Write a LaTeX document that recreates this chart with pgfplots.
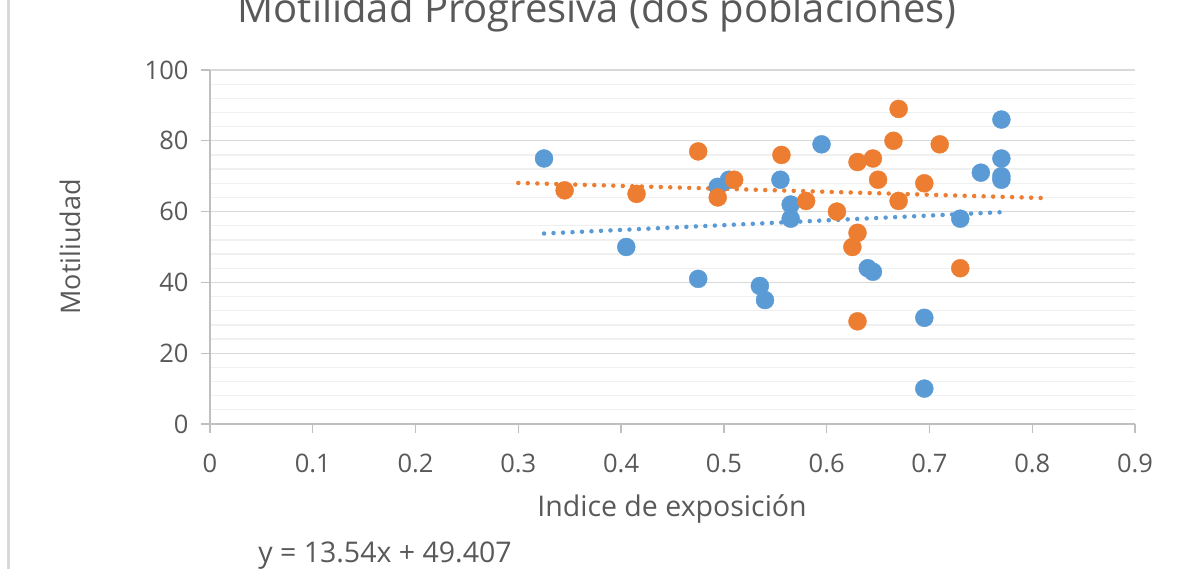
\documentclass[border=0pt]{standalone}
\usepackage{fontspec}
\setmainfont{Open Sans}
\usepackage{pgfplots}
\pgfplotsset{compat=1.18}
\definecolor{cblue}{HTML}{5B9BD5}
\definecolor{corange}{HTML}{ED7D31}
\definecolor{txt}{HTML}{595959}
\definecolor{gmaj}{HTML}{D9D9D9}
\definecolor{gmin}{HTML}{F0F0F0}
\definecolor{gaxis}{HTML}{BFBFBF}
\begin{document}
\begin{tikzpicture}[x=1pt,y=1pt]
\path[use as bounding box] (0,0) rectangle (1183,569);
\draw[line width=3pt, color=gmaj] (8,0) -- (8,569);
\begin{axis}[
  at={(210pt,145pt)}, anchor=south west,
  scale only axis, width=925pt, height=354pt,
  xmin=0, xmax=0.9, ymin=0, ymax=100,
  xtick={0,0.1,0.2,0.3,0.4,0.5,0.6,0.7,0.8,0.9},
  ytick={0,20,40,60,80,100},
  minor y tick num=4,
  ymajorgrids, yminorgrids,
  major grid style={gmaj, line width=1.3pt},
  minor grid style={gmin, line width=1.3pt},
  axis x line*=bottom, axis y line*=left,
  axis line style={gaxis, line width=1.3pt, -},
  tick align=outside,
  major tick length=9pt, minor tick length=0pt,
  tick style={gaxis, line width=1.3pt},
  ticklabel style={font=\fontsize{25.5}{30}\selectfont, text=txt},
  yticklabel style={xshift=-9pt},
  xticklabel style={yshift=-17pt},
  /pgf/number format/assume math mode=true,
  /pgf/number format/fixed,
  /pgf/number format/precision=1,
  clip=false,
]
\addplot[only marks, mark=*, mark size=9pt, mark options={draw=cblue, fill=cblue}] coordinates {
(0.325,75) (0.405,50) (0.475,41) (0.494,67) (0.505,69) (0.535,39) (0.540,35)
(0.555,69) (0.565,62) (0.565,58) (0.595,79) (0.640,44) (0.645,43) (0.695,30)
(0.695,10) (0.730,58) (0.750,71) (0.770,86) (0.770,75) (0.770,70) (0.770,69)
};
\addplot[only marks, mark=*, mark size=9pt, mark options={draw=corange, fill=corange}] coordinates {
(0.345,66) (0.415,65) (0.475,77) (0.494,64) (0.510,69) (0.556,76) (0.580,63)
(0.610,60) (0.625,50) (0.630,54) (0.630,29) (0.630,74) (0.645,75) (0.650,69)
(0.665,80) (0.670,89) (0.670,63) (0.695,68) (0.710,79) (0.730,44)
};
\addplot[cblue, line width=4.5pt, line cap=round, dash pattern=on 0pt off 9.5pt] coordinates {(0.325,53.81) (0.770,59.83)};
\addplot[corange, line width=4.5pt, line cap=round, dash pattern=on 0pt off 9.5pt] coordinates {(0.300,68.1) (0.815,63.8)};
\end{axis}
\node[anchor=base, text=txt, font=\fontsize{40}{46}\selectfont] at (597,546) {Motilidad Progresiva (dos poblaciones)};
\node[text=txt, font=\fontsize{28.5}{34}\selectfont] at (672,60) {Indice de exposición};
\node[rotate=90, text=txt, font=\fontsize{27}{32}\selectfont] at (70,322) {Motiliudad};
\node[anchor=base, text=txt, font=\fontsize{28.5}{34}\selectfont] at (385,6) {y = 13.54x + 49.407};
\end{tikzpicture}
\end{document}
